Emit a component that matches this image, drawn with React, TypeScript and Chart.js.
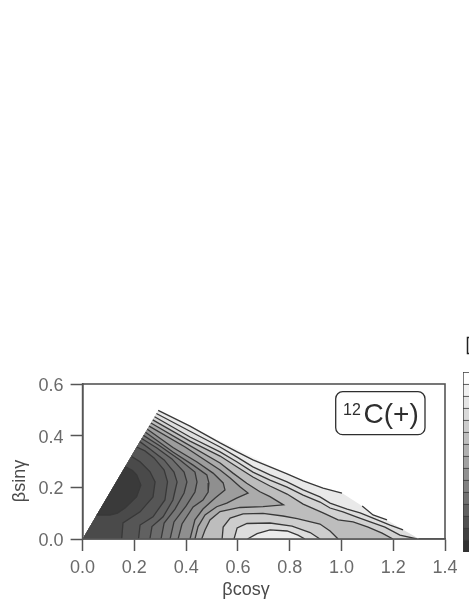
import React, { useEffect, useRef } from "react";
import { Chart, registerables } from "chart.js";

Chart.register(...registerables);

type P = [number, number];

const xTicks = [0, 0.2, 0.4, 0.6, 0.8, 1.0, 1.2, 1.4];
const yTicks = [0, 0.2, 0.4, 0.6];
const xLabel = "βcosγ";
const yLabel = "βsinγ";
const origin: P = [0, 0];
const farCorner: P = [1.3, 0];
const tipCorner: P = [0.292, 0.498];

const c1: P[] = [[.164,.280],[.193,.265],[.209,.248],[.225,.209],[.209,.164],[.164,.120],[.135,.100],[.106,.093],[.054,.093]];
const c2: P[] = [[.190,.319],[.222,.299],[.260,.261],[.280,.221],[.272,.163],[.222,.105],[.156,.062],[.151,0]];
const c3: P[] = [[.209,.356],[.241,.341],[.276,.314],[.315,.267],[.328,.221],[.318,.151],[.272,.086],[.222,.054],[.216,0]];
const c4: P[] = [[.221,.377],[.260,.348],[.315,.306],[.353,.259],[.365,.221],[.349,.151],[.311,.086],[.268,.048],[.260,0]];
const c5: P[] = [[.228,.389],[.287,.352],[.345,.310],[.392,.259],[.403,.221],[.392,.178],[.357,.116],[.315,.062],[.303,0]];
const c6: P[] = [[.235,.401],[.299,.360],[.376,.306],[.434,.259],[.442,.221],[.434,.182],[.400,.128],[.353,.066],[.338,0]];
const c7: P[] = [[.243,.413],[.349,.337],[.427,.286],[.480,.248],[.488,.217],[.485,.182],[.465,.151],[.427,.124],[.384,.058],[.369,0]];
const c8: P[] = [[.250,.425],[.349,.354],[.442,.298],[.504,.255],[.543,.217],[.550,.190],[.512,.159],[.465,.116],[.434,.074],[.415,0]];
const c9: P[] = [[.257,.437],[.396,.356],[.531,.267],[.570,.236],[.608,.202],[.639,.178],[.595,.158],[.557,.139],[.518,.125],[.473,.093],[.446,.048],[.434,0]];
const c10: P[] = [[.264,.449],[.396,.372],[.531,.294],[.581,.255],[.634,.216],[.685,.183],[.724,.164],[.776,.132],[.697,.125],[.608,.122],[.531,.106],[.492,.074],[.473,.035],[.460,0]];
const d: P[] = [[.271,.461],[.415,.379],[.531,.321],[.597,.279],[.658,.240],[.724,.205],[.790,.174],[.852,.135],[.929,.101],[.987,.074],[1.045,.066],[1.103,.046],[1.157,.023],[1.199,0]];
const c: P[] = [[.278,.473],[.415,.395],[.531,.337],[.597,.298],[.658,.259],[.724,.228],[.790,.201],[.852,.170],[.917,.143],[.956,.120],[1.006,.105],[1.060,.085],[1.111,.066],[1.168,.046],[1.226,.015],[1.292,0]];
const b: P[] = [[.285,.486],[.415,.417],[.531,.356],[.597,.317],[.658,.279],[.724,.248],[.790,.221],[.852,.190],[.917,.163],[.956,.139],[1.022,.116],[1.072,.101],[1.122,.081],[1.188,.054],[1.238,.035]];
const a1: P[] = [[.292,.498],[.415,.437],[.531,.372],[.597,.337],[.658,.306],[.724,.279],[.790,.252],[.852,.225],[.929,.197],[1.002,.178]];
const a2: P[] = [[1.080,.128],[1.122,.093],[1.176,.074]];
const h1: P[] = [[.539,0],[.543,.046],[.570,.081],[.620,.097],[.697,.099],[.774,.089],[.829,.079],[.917,.058],[.956,.031],[.987,0]];
const h2: P[] = [[.585,0],[.597,.043],[.635,.060],[.724,.062],[.809,.050],[.879,.025],[.917,0]];
const h3: P[] = [[.637,0],[.674,.021],[.724,.035],[.790,.031],[.832,.015],[.859,0]];

// Filled regions, topmost first
const fills: [P[], string][] = [
  [c1, "#3a3a3a"],
  [[...c2, origin], "#4a4a4a"],
  [[...c3, origin], "#565656"],
  [[...c4, origin], "#616161"],
  [[...c5, origin], "#6c6c6c"],
  [[...c6, origin], "#777777"],
  [[...c7, origin], "#828282"],
  [[...c8, origin], "#8f8f8f"],
  [[...c9, origin], "#9d9d9d"],
  [[...c10, origin], "#ababab"],
  [h3, "#ececec"],
  [h2, "#dddddd"],
  [h1, "#cdcdcd"],
  [[...d, origin], "#bdbdbd"],
  [[...c, origin], "#d2d2d2"],
  [[...b, farCorner, origin], "#dedede"],
  [[...a1, ...a2, farCorner, origin], "#e9e9e9"],
  [[origin, tipCorner, farCorner], "#f6f6f6"],
];
const lines: P[][] = [c1, c2, c3, c4, c5, c6, c7, c8, c9, c10, h1, h2, h3, d, c, b, a1, a2];

const colorbarColors = ["#ffffff","#f1f1f1","#e5e5e5","#d9d9d9","#cccccc","#bebebe","#b0b0b0","#a1a1a1","#919191","#818181","#717171","#616161","#515151","#414141","#313131"];
const colorbarSteps = colorbarColors.map(() => 1);

const toXY = (pts: P[]) => pts.map(([x, y]) => ({ x, y }));

const annotations = {
  id: "annotations",
  afterDraw(chart: any) {
    const { ctx, chartArea: ca } = chart;
    ctx.save();
    ctx.strokeStyle = "#555555";
    ctx.lineWidth = 1.6;
    ctx.strokeRect(ca.left, ca.top, ca.right - ca.left, ca.bottom - ca.top);

    ctx.strokeStyle = "#2e2e2e";
    ctx.lineWidth = 1.3;
    ctx.beginPath();
    ctx.roundRect(335.7, 391.7, 89.3, 43, 7);
    ctx.stroke();

    ctx.fillStyle = "#2e2e2e";
    ctx.textAlign = "left";
    ctx.textBaseline = "alphabetic";
    ctx.font = '16px "Liberation Sans"';
    ctx.fillText("12", 343, 415);
    ctx.font = '28px "Liberation Sans"';
    ctx.fillText("C(+)", 363.5, 423);

    ctx.fillStyle = "#4a4a4a";
    ctx.font = '18px "Liberation Sans"';
    ctx.textAlign = "center";
    ctx.textBaseline = "middle";
    ctx.fillText(xLabel, 246, 590);
    ctx.translate(20, 481);
    ctx.rotate(-Math.PI / 2);
    ctx.fillText(yLabel, 0, 0);
    ctx.restore();

    ctx.save();
    ctx.strokeStyle = "#222222";
    ctx.lineWidth = 1.5;
    ctx.strokeRect(467.5, 337.5, 12, 16);
    ctx.restore();
  },
};

export default function App() {
  const mainRef = useRef<HTMLCanvasElement>(null);
  const barRef = useRef<HTMLCanvasElement>(null);

  useEffect(() => {
    const datasets: any[] = [
      ...lines.map((l) => ({
        data: toXY(l),
        borderColor: "#383838",
        borderWidth: 1.3,
        pointRadius: 0,
        fill: false,
        tension: 0,
      })),
      ...fills.map(([pts, color]) => ({
        data: toXY(pts),
        borderColor: "transparent",
        borderWidth: 0,
        backgroundColor: color,
        pointRadius: 0,
        fill: "shape",
        tension: 0,
      })),
    ];
    const tickFont = { family: '"Liberation Sans"', size: 18 };
    const main = new Chart(mainRef.current!, {
      type: "line",
      data: { datasets },
      plugins: [annotations],
      options: {
        animation: false,
        responsive: false,
        layout: { padding: { left: 0, right: 24, top: 384, bottom: 0 } },
        plugins: { legend: { display: false }, tooltip: { enabled: false } },
        scales: {
          x: {
            type: "linear",
            min: 0,
            max: 1.4,
            afterBuildTicks: (s: any) => { s.ticks = xTicks.map((value) => ({ value })); },
            afterFit: (s: any) => { s.height = 68; },
            border: { color: "#555555", width: 1.6 },
            grid: { drawOnChartArea: false, drawTicks: true, tickLength: 12, tickColor: "#555555", tickWidth: 1.5 },
            ticks: { color: "#6a6a6a", font: tickFont, padding: 6, maxRotation: 0, callback: (v: any) => Number(v).toFixed(1) },
          },
          y: {
            type: "linear",
            min: 0,
            max: 0.6,
            afterBuildTicks: (s: any) => { s.ticks = yTicks.map((value) => ({ value })); },
            afterFit: (s: any) => { s.width = 82.6; },
            border: { color: "#555555", width: 1.6 },
            grid: { drawOnChartArea: false, drawTicks: true, tickLength: 12, tickColor: "#555555", tickWidth: 1.5 },
            ticks: { color: "#6a6a6a", font: tickFont, padding: 7, labelOffset: 2, callback: (v: any) => Number(v).toFixed(1) },
          },
        },
      } as any,
    });

    const bar = new Chart(barRef.current!, {
      type: "bar",
      data: {
        labels: [""],
        datasets: [...colorbarColors].reverse().map((color, i) => ({
          data: [colorbarSteps[i]],
          backgroundColor: color,
          borderColor: "#3a3a3a",
          borderWidth: 1,
          categoryPercentage: 1,
          barPercentage: 1,
        })),
      },
      options: {
        animation: false,
        responsive: false,
        plugins: { legend: { display: false }, tooltip: { enabled: false } },
        scales: {
          x: { display: false, stacked: true },
          y: { display: false, stacked: true, min: 0, max: colorbarSteps.length },
        },
      } as any,
    });

    return () => {
      main.destroy();
      bar.destroy();
    };
  }, []);

  return (
    <div style={{ position: "fixed", left: 0, top: 0, width: 469, height: 607, overflow: "hidden", background: "#fff" }}>
      <canvas ref={mainRef} width={469} height={607} style={{ position: "absolute", left: 0, top: 0 }} />
      <canvas ref={barRef} width={40} height={180} style={{ position: "absolute", left: 463, top: 371.5 }} />
    </div>
  );
}
